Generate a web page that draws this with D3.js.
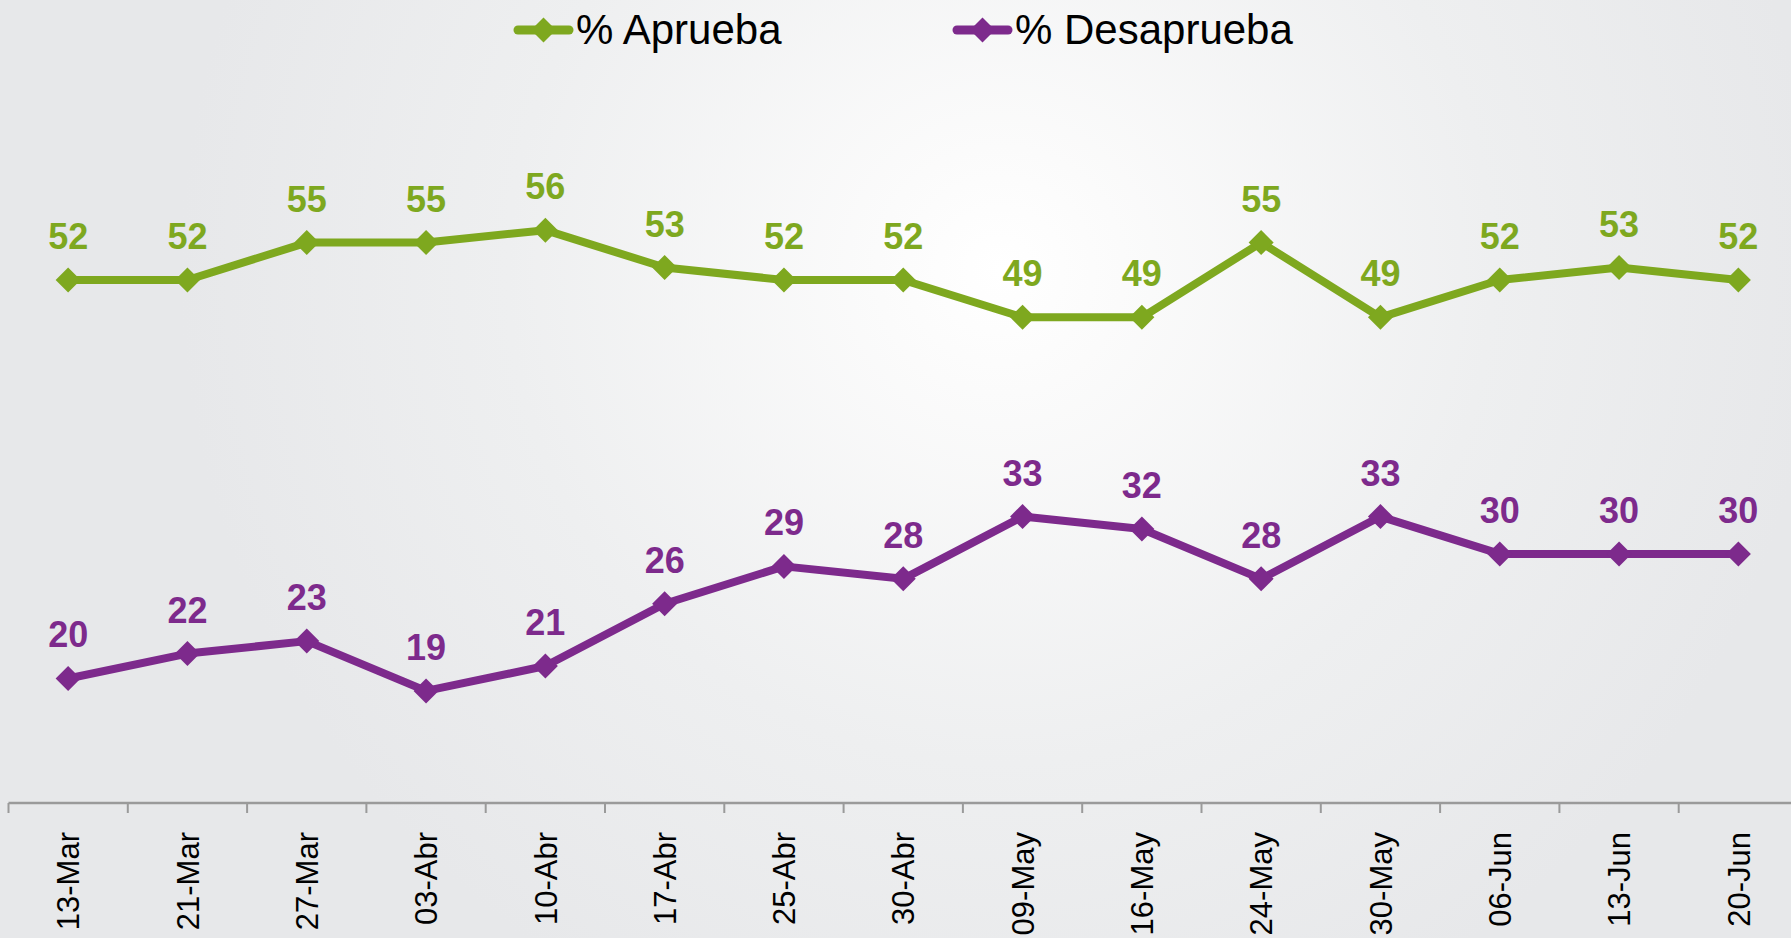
<!DOCTYPE html>
<html>
<head>
<meta charset="utf-8">
<script src="https://cdn.jsdelivr.net/npm/d3@7/dist/d3.min.js"></script>
<style>
  html, body { margin: 0; padding: 0; overflow: hidden; background: #e8e9eb; }
  svg { display: block; }
</style>
</head>
<body>
<svg id="chart" width="1791" height="938"></svg>
<script>
const dates = ["13-Mar","21-Mar","27-Mar","03-Abr","10-Abr","17-Abr","25-Abr","30-Abr","09-May","16-May","24-May","30-May","06-Jun","13-Jun","20-Jun"];
const aprueba = [52,52,55,55,56,53,52,52,49,49,55,49,52,53,52];
const desaprueba = [20,22,23,19,21,26,29,28,33,32,28,33,30,30,30];
const seriesNames = ["% Aprueba", "% Desaprueba"];

const GREEN = "#7ea81f";
const PURPLE = "#7d2a8c";
const FONT = "'Liberation Sans', Arial, Helvetica, sans-serif";

const W = 1791, H = 938;
const svg = d3.select("#chart");

// background radial gradient
const defs = svg.append("defs");
const grad = defs.append("radialGradient")
  .attr("id", "bg").attr("gradientUnits", "userSpaceOnUse")
  .attr("cx", 1000).attr("cy", 270).attr("r", 820);
grad.append("stop").attr("offset", "0").attr("stop-color", "#ffffff");
grad.append("stop").attr("offset", "0.15").attr("stop-color", "#fbfbfb");
grad.append("stop").attr("offset", "0.6").attr("stop-color", "#eeeff0");
grad.append("stop").attr("offset", "1").attr("stop-color", "#e7e8ea");
svg.append("rect").attr("width", W).attr("height", H).attr("fill", "url(#bg)");

const x = d3.scaleBand().domain(dates).range([8.5, 8.5 + 15 * 119.3]).padding(0);
const y = d3.scaleLinear().domain([10, 70]).range([803, 55.8]);

// x axis
const xAxis = d3.axisBottom(x).tickSize(0).tickFormat("");
const axisG = svg.append("g").attr("transform", `translate(0,${y(10)})`).call(xAxis);
axisG.select(".domain").attr("stroke", "#9a9a9a").attr("stroke-width", 2.5)
  .attr("d", `M${x.range()[0]},0H${W + 20}`);
// boundary ticks between categories
const bounds = d3.range(dates.length + 1).map(i => x.range()[0] + i * x.step());
axisG.selectAll(".bt").data(bounds).join("line").attr("class", "bt")
  .attr("x1", d => d).attr("x2", d => d).attr("y1", 0).attr("y2", 10)
  .attr("stroke", "#9a9a9a").attr("stroke-width", 2);
// labels
axisG.selectAll(".xl").data(dates).join("text").attr("class", "xl")
  .attr("transform", d => `translate(${x(d) + x.bandwidth() / 2},29) rotate(-90)`)
  .attr("text-anchor", "end").attr("dy", "0.36em")
  .attr("font-family", FONT).attr("font-size", 31).attr("fill", "#000")
  .text(d => d);

const cx = d => x(d) + x.bandwidth() / 2;
const diamond = d3.symbol().type(d3.symbolDiamond2 || d3.symbolSquare);

function diamondPath(r) { return `M0,${-r}L${r},0L0,${r}L${-r},0Z`; }

function drawSeries(values, color) {
  const data = dates.map((d, i) => ({ d, v: values[i] }));
  const line = d3.line().x(p => cx(p.d)).y(p => y(p.v));
  const g = svg.append("g");
  g.append("path").datum(data).attr("d", line)
    .attr("fill", "none").attr("stroke", color).attr("stroke-width", 8)
    .attr("stroke-linejoin", "round");
  g.selectAll(".m").data(data).join("path").attr("class", "m")
    .attr("transform", p => `translate(${cx(p.d)},${y(p.v)})`)
    .attr("d", diamondPath(12.5)).attr("fill", color);
  g.selectAll(".lbl").data(data).join("text").attr("class", "lbl")
    .attr("x", p => cx(p.d)).attr("y", p => y(p.v) - 31)
    .attr("text-anchor", "middle")
    .attr("font-family", FONT).attr("font-weight", "bold").attr("font-size", 36)
    .attr("fill", color).text(p => p.v);
}
drawSeries(aprueba, GREEN);
drawSeries(desaprueba, PURPLE);

// legend
const legendItems = [
  { name: seriesNames[0], color: GREEN, x0: 514, x1: 573 },
  { name: seriesNames[1], color: PURPLE, x0: 953, x1: 1012 }
];
const lg = svg.append("g");
legendItems.forEach(it => {
  lg.append("line").attr("x1", it.x0 + 4).attr("x2", it.x1 - 4).attr("y1", 30).attr("y2", 30)
    .attr("stroke", it.color).attr("stroke-width", 9).attr("stroke-linecap", "round");
  lg.append("path").attr("transform", `translate(${(it.x0 + it.x1) / 2},30)`)
    .attr("d", diamondPath(12.5)).attr("fill", it.color);
  lg.append("text").attr("x", it.x1 + 3).attr("y", 44)
    .attr("font-family", FONT).attr("font-size", 42).attr("fill", "#000")
    .text(it.name);
});
</script>
</body>
</html>
